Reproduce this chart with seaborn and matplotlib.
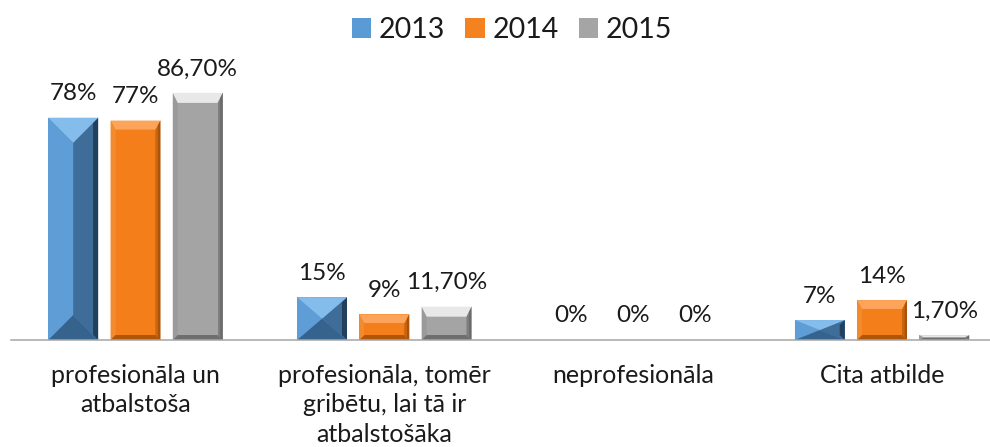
import matplotlib
matplotlib.use("Agg")
import matplotlib.pyplot as plt
from matplotlib.patches import Polygon, Rectangle
import seaborn as sns
import pandas as pd

categories = ["profesionāla un\natbalstoša",
              "profesionāla, tomēr\ngribētu, lai tā ir\natbalstošāka",
              "neprofesionāla",
              "Cita atbilde"]
years = ["2013", "2014", "2015"]
v2013 = [78, 15, 0, 7]
v2014 = [77, 9, 0, 14]
v2015 = [86.7, 11.7, 0, 1.7]

sns.set_theme(style="white")
plt.rcParams["font.family"] = ["Lato", "DejaVu Sans"]

rows = []
for yr, vals in zip(years, [v2013, v2014, v2015]):
    for c, v in zip(categories, vals):
        rows.append({"cat": c, "year": yr, "val": v})
df = pd.DataFrame(rows)

base = {"2013": "#5B9BD5", "2014": "#F58220", "2015": "#A5A5A5"}
facets = {
    "2013": dict(top="#84BDEC", left="#5E9DD6", right="#3F6D9A", rightedge="#223F5C",
                 bottom="#36628E", center="#5B9BD5"),
    "2014": dict(top="#FBA45A", left="#F28A2E", right="#C8650F", rightedge="#A8520A",
                 bottom="#B0560A", center="#F47E1A"),
    "2015": dict(top="#E8E8E8", left="#9A9A9A", right="#7E7E7E", rightedge="#6A6A6A",
                 bottom="#6E6E6E", center="#A4A4A4"),
}
# bevel depths in pixels: (side, top, bottom)
bevel = {"2013": (25, 25, 25), "2014": (5, 9, 5), "2015": (5, 10, 5)}

W, H = 990, 447
fig = plt.figure(figsize=(W / 100, H / 100), dpi=100)
ax_left, ax_right, ax_bottom, ax_top = 11, 1006.5, 340, 60
ax = fig.add_axes([ax_left / W, 1 - ax_bottom / H, (ax_right - ax_left) / W, (ax_bottom - ax_top) / H])

sns.barplot(data=df, x="cat", y="val", hue="year", hue_order=years, order=categories,
            palette=base, width=0.75, gap=0.2, ax=ax, legend=False, saturation=1)

ymax = (ax_bottom - ax_top) / 2.85
ax.set_xlim(-0.5, 3.5)
ax.set_ylim(0, ymax)
pxx = (ax_right - ax_left) / 4.0
pxy = (ax_bottom - ax_top) / ymax


def fmt(v):
    if float(v).is_integer():
        return f"{int(v)}%"
    return f"{v:.2f}%".replace(".", ",")


for yr, cont in zip(years, ax.containers):
    f = facets[yr]
    ds, dt, db = bevel[yr]
    for p in cont.patches:
        x0 = p.get_x(); w = p.get_width(); h = p.get_height()
        x1 = x0 + w; y0 = 0; y1 = h
        ax.annotate(fmt(h), (x0 + w / 2, y1), xytext=(0, 24 * 0.72), textcoords="offset points",
                    ha="center", va="center", fontsize=17.5, color="#1a1a1a")
        if h <= 0:
            continue
        p.set_edgecolor("none")
        wpx = w * pxx; hpx = h * pxy
        s = min(ds, wpx / 2) / pxx
        t = min(dt, hpx / 2) / pxy
        b = min(db, hpx / 2) / pxy
        xi0, xi1 = x0 + s, x1 - s
        yi0, yi1 = y0 + b, y1 - t
        e = min(s * 0.45, 5 / pxx)
        polys = [
            ([(x0, y0), (xi0, yi0), (xi0, yi1), (x0, y1)], f["left"]),
            ([(x1, y0), (xi1, yi0), (xi1, yi1), (x1, y1)], f["right"]),
            ([(x1, y0), (x1 - e, y0 + e * pxx / pxy), (x1 - e, y1 - e * pxx / pxy), (x1, y1)], f["rightedge"]),
            ([(x0, y1), (x1, y1), (xi1, yi1), (xi0, yi1)], f["top"]),
            ([(x0, y0), (x1, y0), (xi1, yi0), (xi0, yi0)], f["bottom"]),
        ]
        for pts, col in polys:
            ax.add_patch(Polygon(pts, closed=True, facecolor=col, edgecolor="none", zorder=3))
        if xi1 > xi0 and yi1 > yi0:
            ax.add_patch(Rectangle((xi0, yi0), xi1 - xi0, yi1 - yi0, facecolor=f["center"],
                                   edgecolor="none", zorder=3))

for sp in ["top", "left", "right"]:
    ax.spines[sp].set_visible(False)
ax.spines["bottom"].set_color("#A6A6A6")
ax.spines["bottom"].set_linewidth(1.1)
ax.spines["bottom"].set_zorder(4)
ax.set_yticks([])
ax.set_xlabel("")
ax.set_ylabel("")
ax.tick_params(axis="x", length=0, pad=17, labelsize=18, labelcolor="#1a1a1a")
for lbl in ax.get_xticklabels():
    lbl.set_linespacing(1.36)

handles = [Rectangle((0, 0), 1, 1, facecolor=base[y], edgecolor="none") for y in years]
fig.legend(handles, years, loc="center", bbox_to_anchor=(512 / W, 1 - 30 / H), ncol=3,
           frameon=False, fontsize=20.5, handlelength=0.68, handleheight=0.68,
           handletextpad=0.28, columnspacing=0.7, labelcolor="#1a1a1a")

fig.savefig("out.png", dpi=100)
